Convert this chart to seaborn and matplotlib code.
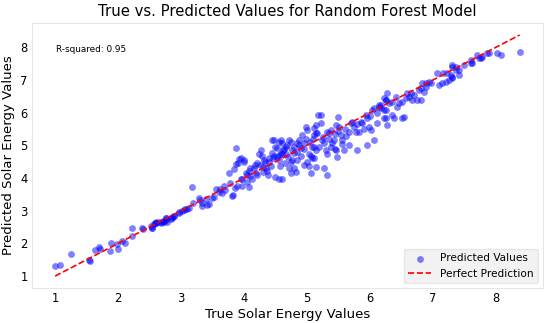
import numpy as np
import pandas as pd
import matplotlib
matplotlib.use("Agg")
import matplotlib.pyplot as plt
import seaborn as sns

# values (true, predicted)
true_low = [1.00, 1.08, 1.26, 1.54, 1.55, 1.63, 1.70, 1.71, 1.88, 1.87, 1.99, 2.00, 2.07, 2.11,
            2.22, 2.22, 2.38, 2.39, 2.52, 2.54, 2.59, 2.61, 2.70, 2.72, 2.76, 2.76, 2.85, 2.89, 2.97,
            2.54, 2.57, 2.60, 2.65, 2.68, 2.73, 2.76, 2.78, 2.84, 2.86, 2.89, 2.97, 3.02, 3.06]
pred_low = [1.30, 1.33, 1.68, 1.49, 1.45, 1.80, 1.89, 1.83, 2.00, 1.77, 1.98, 1.83, 2.08, 2.00,
            2.48, 2.23, 2.48, 2.45, 2.54, 2.48, 2.63, 2.66, 2.66, 2.70, 2.78, 2.72, 2.78, 2.85, 2.94,
            2.48, 2.60, 2.63, 2.66, 2.63, 2.66, 2.78, 2.66, 2.75, 2.81, 2.85, 2.97, 3.00, 3.06]

true_mid1 = [3.05, 3.10, 3.13, 3.18, 3.19, 3.29, 3.30, 3.33, 3.34, 3.39, 3.41, 3.45, 3.49, 3.52,
             3.56, 3.60, 3.62, 3.65, 3.68, 3.70, 3.76, 3.78, 3.81, 3.83, 3.84, 3.86, 3.87, 3.87,
             3.89, 3.92, 3.95, 3.95, 3.90]
pred_mid1 = [3.03, 3.06, 3.09, 3.74, 3.25, 3.40, 3.34, 3.15, 3.25, 3.37, 3.18, 3.22, 3.40, 3.42,
             3.68, 3.58, 3.66, 3.55, 3.77, 3.62, 4.14, 3.86, 3.46, 3.49, 4.29, 3.70, 4.42, 4.91,
             3.77, 4.57, 4.60, 3.98, 4.45]

true_mid2 = [4.00, 4.00, 3.97, 3.97, 4.03, 4.05, 4.05, 4.08, 4.10, 4.13, 4.16, 4.19, 4.21, 4.21,
             4.24, 4.27, 4.29, 4.32, 4.30, 4.35, 4.37, 4.38, 4.40, 4.43, 4.45, 4.48, 4.45, 4.48,
             4.50, 4.52, 4.56, 4.59, 4.60, 4.52, 4.56, 4.59, 4.60, 4.50, 4.56, 4.60, 4.67, 4.68,
             4.67, 4.71, 4.75, 4.76, 4.79, 4.75, 4.76, 4.75, 4.79, 4.84, 4.87, 4.90, 4.90, 4.92,
             4.95, 4.98, 5.00, 5.00, 5.03, 5.08, 5.11, 5.11, 5.16, 5.17, 5.14, 5.06, 5.03, 5.08,
             5.06, 4.10, 4.25, 4.30, 4.40, 4.55, 4.62, 4.70, 4.80, 4.85, 4.95, 5.05, 5.10, 4.65,
             4.85, 4.58, 4.72, 4.82, 4.95, 4.08, 4.18, 4.33, 4.46, 4.64, 4.88, 4.98]
pred_mid2 = [4.48, 4.54, 3.98, 3.77, 4.14, 4.08, 3.89, 4.23, 4.05, 3.98, 4.32, 4.17, 4.08, 4.45,
             4.75, 4.85, 4.69, 4.54, 4.20, 4.32, 4.23, 4.10, 4.48, 4.38, 5.15, 5.15, 4.78, 4.69,
             4.94, 4.91, 5.09, 5.15, 5.06, 4.63, 4.54, 4.78, 4.75, 4.02, 3.98, 3.98, 4.94, 5.00,
             4.75, 5.15, 5.09, 4.85, 4.78, 4.48, 4.54, 4.17, 4.32, 5.06, 5.15, 4.69, 4.91, 5.31,
             5.06, 5.55, 5.46, 4.48, 4.75, 4.94, 4.60, 5.31, 5.37, 5.92, 5.62, 4.17, 4.38, 4.60,
             4.69, 4.30, 4.40, 4.35, 4.60, 4.70, 4.85, 4.65, 4.95, 4.80, 4.90, 5.10, 5.20, 4.45,
             4.55, 4.38, 4.30, 4.20, 4.40, 3.72, 4.40, 4.50, 4.62, 4.88, 5.00, 5.20]

true_high1 = [5.22, 5.22, 5.11, 5.14, 5.11, 5.14, 5.14, 5.27, 5.32, 5.24, 5.27, 5.32, 5.35, 5.38,
              5.30, 5.32, 5.40, 5.43, 5.46, 5.48, 5.46, 5.51, 5.49, 5.54, 5.56, 5.59, 5.67, 5.70,
              5.71, 5.67, 5.78, 5.83, 5.79, 5.86, 5.87, 5.94, 5.95, 5.95, 5.98, 6.02, 6.03, 6.06,
              6.06, 6.11, 6.11, 6.14, 6.17, 6.22, 6.25, 6.22, 6.25, 6.27, 5.25, 5.35, 5.45, 5.50,
              5.60, 5.62, 5.75, 5.80, 5.90, 6.00, 5.55, 5.38, 5.20, 5.45]
pred_high1 = [5.92, 5.68, 5.52, 5.37, 4.94, 4.85, 4.35, 4.32, 4.08, 5.15, 5.06, 5.40, 5.37, 5.46,
              4.85, 4.75, 5.06, 5.15, 4.85, 4.63, 5.62, 5.55, 5.86, 5.31, 5.15, 4.85, 5.40, 5.68,
              5.71, 5.00, 5.40, 5.40, 4.85, 5.71, 5.68, 5.92, 5.83, 5.00, 5.55, 5.46, 6.08, 6.14,
              5.15, 5.68, 6.00, 6.17, 6.23, 6.45, 6.38, 6.08, 5.83, 6.60, 5.25, 5.20, 5.35, 5.45,
              5.50, 5.30, 5.55, 5.65, 5.50, 5.90, 5.05, 4.95, 4.95, 4.90]

true_high2 = [6.14, 6.18, 6.25, 6.25, 6.22, 6.27, 6.35, 6.38, 6.30, 6.35, 6.41, 6.43, 6.46, 6.51,
              6.54, 6.51, 6.57, 6.59, 6.62, 6.65, 6.67, 6.70, 6.75, 6.81, 6.78, 6.81, 6.86, 6.89,
              6.90, 6.94, 6.97, 6.83, 7.06, 7.10, 7.14, 7.21, 7.25, 7.30, 7.17, 7.22, 7.30, 7.37,
              7.30, 7.29, 7.30, 7.37, 7.41, 7.41, 7.49, 7.60, 7.62, 7.60, 7.70, 7.73, 7.76, 7.78,
              7.86, 7.89, 8.02, 8.08, 8.38]
pred_high2 = [6.23, 6.15, 6.08, 6.38, 5.83, 5.62, 5.92, 5.83, 6.29, 6.32, 6.48, 6.17, 6.29, 5.83,
              5.86, 6.32, 6.45, 6.60, 6.48, 6.60, 6.38, 6.54, 6.38, 6.38, 6.69, 6.75, 6.63, 6.78,
              6.91, 6.94, 6.91, 6.91, 7.22, 6.85, 6.91, 6.94, 7.00, 7.09, 7.22, 7.22, 7.46, 7.40,
              7.40, 7.15, 7.06, 7.31, 7.31, 7.15, 7.46, 7.52, 7.52, 7.62, 7.77, 7.68, 7.68, 7.71,
              7.83, 7.83, 7.83, 7.77, 7.86]

r_squared = 0.95

y_test = np.array(true_low + true_mid1 + true_mid2 + true_high1 + true_high2)
y_pred = np.array(pred_low + pred_mid1 + pred_mid2 + pred_high1 + pred_high2)
df = pd.DataFrame({"true": y_test, "pred": y_pred})

sns.set_style("whitegrid")
plt.rcParams["text.color"] = "black"
plt.rcParams["axes.labelcolor"] = "black"
plt.rcParams["xtick.color"] = "black"
plt.rcParams["ytick.color"] = "black"

fig, ax = plt.subplots(figsize=(5.5, 3.23), dpi=100)
fig.subplots_adjust(left=0.058, right=0.987, top=0.929, bottom=0.108)

sns.scatterplot(data=df, x="true", y="pred", color="blue", alpha=0.5, s=24,
                linewidth=0, label="Predicted Values", ax=ax)
lo, hi = y_test.min(), y_test.max()
ax.plot([lo, hi], [lo, hi], "r--", lw=1.2, label="Perfect Prediction")

ax.grid(False)
for sp in ax.spines.values():
    sp.set_color("0.9")
ax.set_xticks(range(1, 9))
ax.set_yticks(range(1, 9))
ax.tick_params(labelsize=8.3, length=0, pad=3)

ax.set_title("True vs. Predicted Values for Random Forest Model", fontsize=10.7, pad=5)
ax.set_xlabel("True Solar Energy Values", fontsize=9.5, labelpad=2)
ax.set_ylabel("Predicted Solar Energy Values", fontsize=9.5, labelpad=4)
ax.text(0.047, 0.9, f"R-squared: {r_squared}", transform=ax.transAxes, fontsize=6.4, va="center")

leg = ax.legend(loc="lower right", fontsize=7.6, facecolor="0.95", edgecolor="0.9",
                framealpha=1, borderpad=0.4, handlelength=2.2)

fig.savefig("out.png", dpi=100)
